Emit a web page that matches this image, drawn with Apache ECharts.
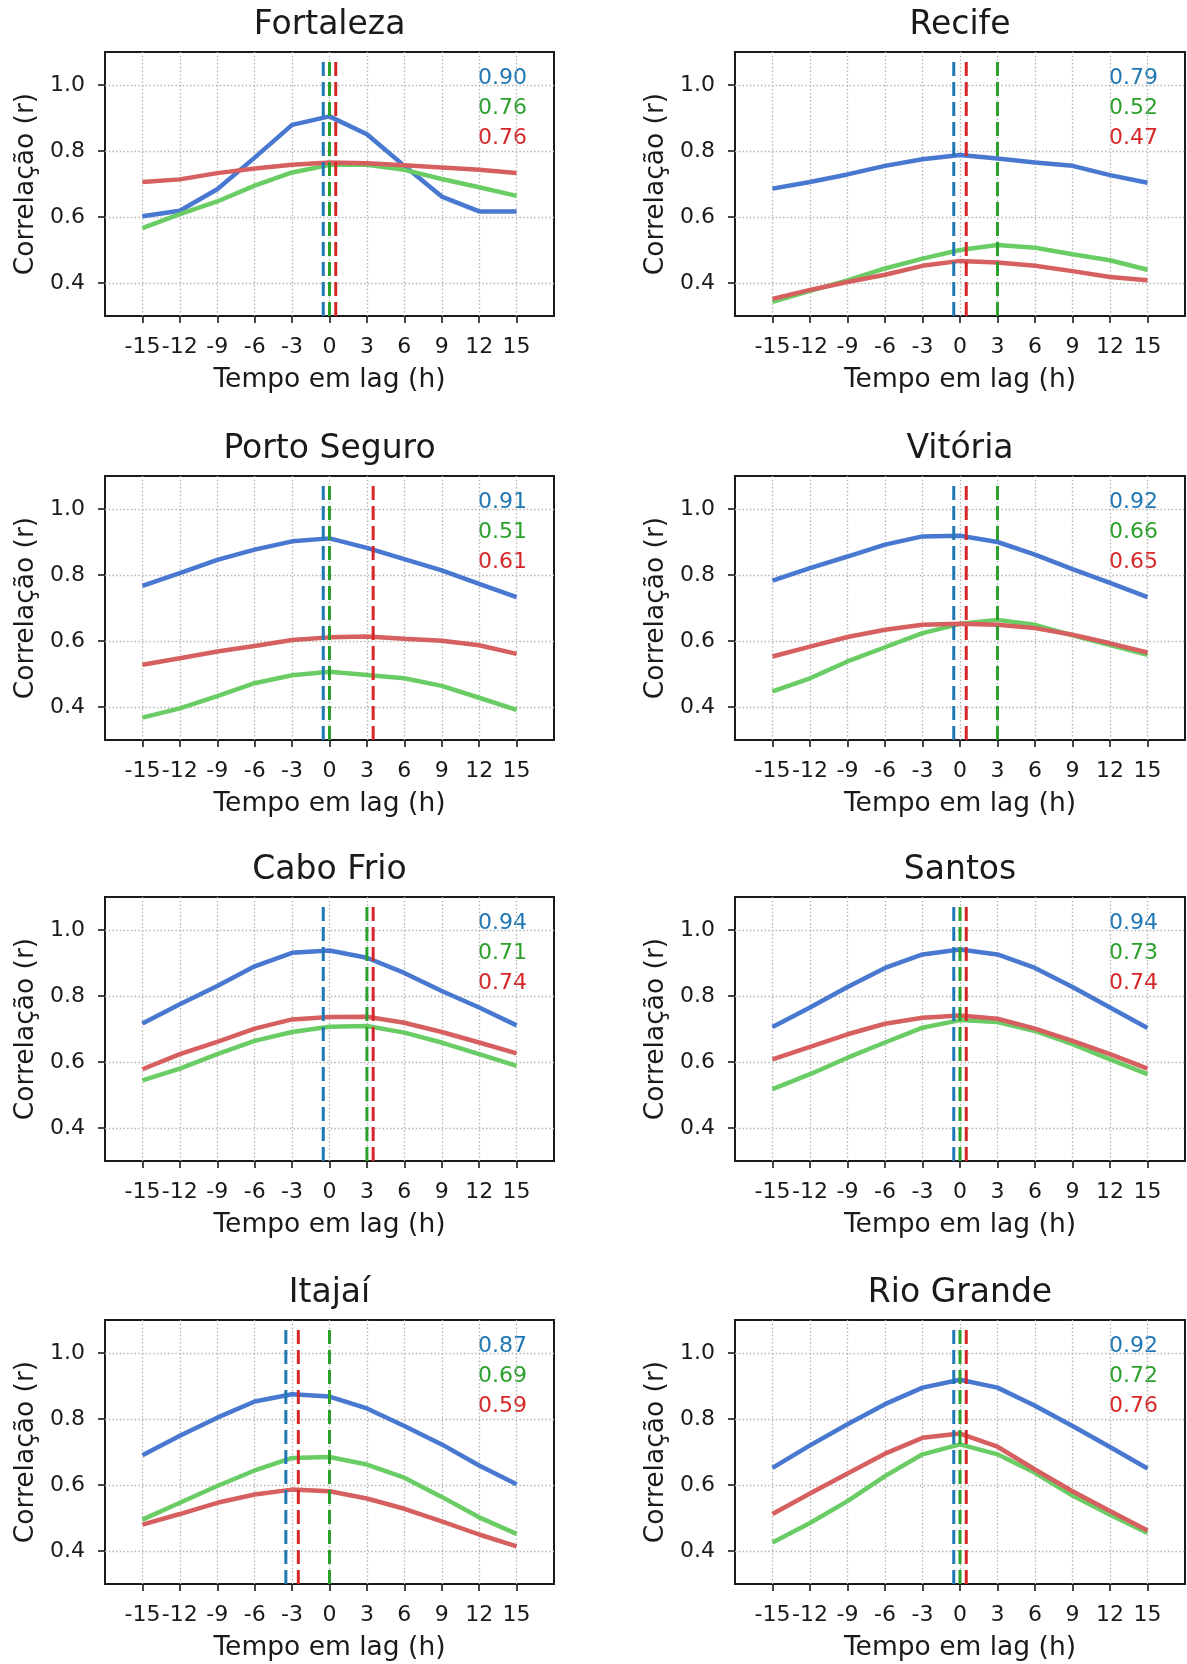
<!DOCTYPE html>
<html>
<head>
<meta charset="utf-8">
<title>Correlação x tempo em lag</title>
<script src="https://cdn.jsdelivr.net/npm/echarts@6/dist/echarts.min.js"></script>
<style>
html,body{margin:0;padding:0;background:#fff;}
#chart{width:1187px;height:1664px;}
</style>
</head>
<body>
<div id="chart"></div>
<script>
// eixo x: tempo em lag (h)
var lags = [-15, -12, -9, -6, -3, 0, 3, 6, 9, 12, 15];
var yTicks = [0.4, 0.6, 0.8, 1.0];
var cities = ['Fortaleza', 'Recife', 'Porto Seguro', 'Vitória', 'Cabo Frio', 'Santos', 'Itajaí', 'Rio Grande'];

// correlação por cidade (azul, verde, vermelho)
var blueSeries = [
	[0.602, 0.619, 0.684, 0.780, 0.879, 0.905, 0.851, 0.755, 0.662, 0.617, 0.617],
	[0.686, 0.706, 0.729, 0.755, 0.775, 0.788, 0.777, 0.765, 0.755, 0.727, 0.704],
	[0.767, 0.806, 0.846, 0.877, 0.902, 0.911, 0.882, 0.848, 0.814, 0.773, 0.733],
	[0.783, 0.821, 0.856, 0.892, 0.917, 0.919, 0.900, 0.862, 0.818, 0.776, 0.733],
	[0.717, 0.775, 0.830, 0.890, 0.931, 0.938, 0.916, 0.870, 0.815, 0.765, 0.711],
	[0.706, 0.765, 0.827, 0.885, 0.926, 0.941, 0.926, 0.885, 0.827, 0.765, 0.703],
	[0.690, 0.749, 0.804, 0.853, 0.875, 0.868, 0.832, 0.779, 0.723, 0.659, 0.602],
	[0.652, 0.720, 0.784, 0.845, 0.895, 0.919, 0.895, 0.840, 0.779, 0.715, 0.650]
];
var greenSeries = [
	[0.566, 0.609, 0.647, 0.695, 0.735, 0.758, 0.758, 0.743, 0.715, 0.690, 0.664],
	[0.343, 0.376, 0.408, 0.444, 0.474, 0.500, 0.515, 0.507, 0.487, 0.469, 0.440],
	[0.368, 0.396, 0.433, 0.472, 0.496, 0.507, 0.497, 0.487, 0.464, 0.428, 0.391],
	[0.447, 0.487, 0.538, 0.581, 0.624, 0.652, 0.664, 0.649, 0.617, 0.588, 0.558],
	[0.544, 0.580, 0.624, 0.664, 0.691, 0.707, 0.709, 0.689, 0.659, 0.624, 0.588],
	[0.518, 0.563, 0.613, 0.659, 0.704, 0.727, 0.721, 0.694, 0.654, 0.608, 0.563],
	[0.495, 0.546, 0.597, 0.644, 0.682, 0.685, 0.662, 0.622, 0.564, 0.502, 0.452],
	[0.426, 0.485, 0.551, 0.627, 0.693, 0.723, 0.693, 0.637, 0.568, 0.510, 0.455]
];
var redSeries = [
	[0.706, 0.714, 0.733, 0.747, 0.758, 0.765, 0.763, 0.757, 0.750, 0.743, 0.733],
	[0.352, 0.379, 0.403, 0.425, 0.452, 0.467, 0.462, 0.452, 0.436, 0.418, 0.408],
	[0.528, 0.548, 0.568, 0.585, 0.603, 0.611, 0.614, 0.607, 0.601, 0.587, 0.561],
	[0.553, 0.583, 0.612, 0.634, 0.649, 0.652, 0.649, 0.639, 0.619, 0.593, 0.565],
	[0.578, 0.624, 0.661, 0.701, 0.729, 0.736, 0.737, 0.719, 0.691, 0.659, 0.626],
	[0.608, 0.646, 0.684, 0.716, 0.734, 0.741, 0.731, 0.701, 0.664, 0.624, 0.580],
	[0.480, 0.512, 0.546, 0.571, 0.586, 0.581, 0.559, 0.528, 0.490, 0.450, 0.414],
	[0.512, 0.574, 0.635, 0.695, 0.743, 0.756, 0.716, 0.647, 0.581, 0.521, 0.462]
];

// correlação máxima (texto) e lag do máximo
var bluePeak = ['0.90', '0.79', '0.91', '0.92', '0.94', '0.94', '0.87', '0.92'];
var greenPeak = ['0.76', '0.52', '0.51', '0.66', '0.71', '0.73', '0.69', '0.72'];
var redPeak = ['0.76', '0.47', '0.61', '0.65', '0.74', '0.74', '0.59', '0.76'];
var blueLag = [0, 0, 0, 0, 0, 0, -3, 0];
var greenLag = [0, 3, 0, 3, 3, 0, 0, 0];
var redLag = [0, 0, 3, 0, 3, 0, -3, 0];

// layout (px)
var colLeft = [105, 735];
var colWidth = [449, 450];
var rowTop = [52, 476, 897, 1320];
var plotHeight = 264;
var fontName = 'DejaVu Sans';
var ink = '#1a1a1a';

// cores: linhas (muted) e linhas tracejadas / textos (tab10)
var lineColors = ['#4878d0', '#6acc64', '#d65f5f'];
var markColors = ['#1f77b4', '#2ca02c', '#d62728'];
var markOffset = [-0.5, 0, 0.5];//deslocamento para não sobrepor as tracejadas
var vlineRange = [0.3, 1.075];
var peakFrac = [0.9, 0.785, 0.675];//posição vertical dos textos (fração do eixo)
var gridDots = {type: [1.5, 2.2], color: '#b4b4b4', width: 1.3};

var chart = echarts.init(document.getElementById('chart'));
var grids = [], xAxes = [], yAxes = [], seriesList = [], graphics = [];

for (var i = 0; i < cities.length; i++)
{
	var col = i % 2;
	var row = Math.floor(i / 2);
	var gLeft = colLeft[col], gTop = rowTop[row], gWidth = colWidth[col];
	grids.push({left: gLeft, top: gTop, width: gWidth, height: plotHeight, show: true,
		borderColor: ink, borderWidth: 2});

	xAxes.push({
		gridIndex: i, type: 'value', min: -18, max: 18,
		axisLine: {show: false, onZero: false},
		axisTick: {show: true, customValues: lags, length: 7, lineStyle: {color: ink, width: 1.6}},
		axisLabel: {customValues: lags, margin: 20, color: ink, fontSize: 22, fontFamily: fontName},
		splitLine: {show: true, lineStyle: gridDots},
		name: 'Tempo em lag (h)', nameLocation: 'middle', nameGap: 51,
		nameTextStyle: {fontSize: 26.5, color: ink, fontFamily: fontName}
	});
	yAxes.push({
		gridIndex: i, type: 'value', min: 0.3, max: 1.1,
		axisLine: {show: false, onZero: false},
		axisTick: {show: true, customValues: yTicks, length: 7, lineStyle: {color: ink, width: 1.6}},
		axisLabel: {customValues: yTicks, margin: 20, color: ink, fontSize: 22, fontFamily: fontName,
			formatter: function(v){ return v.toFixed(1); }},
		splitLine: {show: true, lineStyle: gridDots},
		name: 'Correlação (r)', nameLocation: 'middle', nameGap: 65, nameRotate: 90,
		nameTextStyle: {fontSize: 26.5, color: ink, fontFamily: fontName}
	});

	var sets = [blueSeries[i], greenSeries[i], redSeries[i]];
	var bestLags = [blueLag[i], greenLag[i], redLag[i]];
	var peaks = [bluePeak[i], greenPeak[i], redPeak[i]];
	for (var k = 0; k < 3; k++)
	{
		var pts = [];
		for (var j = 0; j < lags.length; j++)
		{
			pts.push([lags[j], sets[k][j]]);
		}
		seriesList.push({type: 'line', xAxisIndex: i, yAxisIndex: i, data: pts, symbol: 'none',
			lineStyle: {color: lineColors[k], width: 4.5}, z: 2, silent: true});
	}
	//linhas tracejadas no lag de máxima correlação
	for (var k = 0; k < 3; k++)
	{
		var xv = bestLags[k] + markOffset[k];
		seriesList.push({type: 'line', xAxisIndex: i, yAxisIndex: i,
			data: [[xv, vlineRange[0]], [xv, vlineRange[1]]], symbol: 'none',
			lineStyle: {color: markColors[k], width: 3, type: [14, 6]}, z: 5, silent: true});
	}

	//título
	graphics.push({type: 'text', x: gLeft + gWidth / 2, y: gTop - 27, silent: true,
		style: {text: cities[i], align: 'center', verticalAlign: 'middle', fill: ink,
			font: '33px "DejaVu Sans"'}});
	//valores máximos
	for (var k = 0; k < 3; k++)
	{
		graphics.push({type: 'text', x: gLeft + 0.94 * gWidth, y: gTop + (1 - peakFrac[k]) * plotHeight, silent: true,
			style: {text: peaks[k], align: 'right', verticalAlign: 'middle', fill: markColors[k],
				font: '22px "DejaVu Sans"'}});
	}
}

var option = {
	animation: false,
	backgroundColor: '#fff',
	grid: grids,
	xAxis: xAxes,
	yAxis: yAxes,
	series: seriesList,
	graphic: graphics
};
chart.setOption(option);
</script>
</body>
</html>
